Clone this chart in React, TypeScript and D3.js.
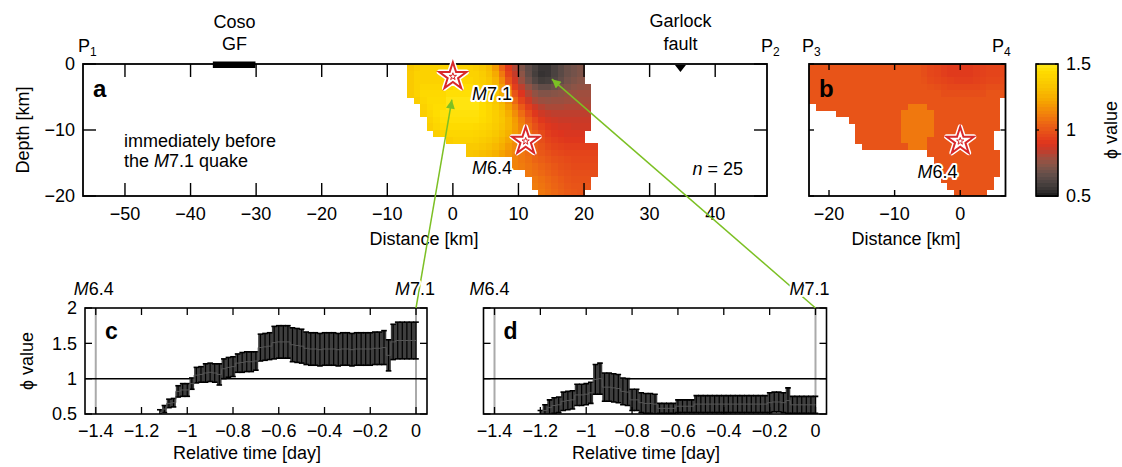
import React from "react";
import * as d3 from "d3";

const FONT = "'Liberation Sans', Arial, Helvetica, sans-serif";

// phi colour table
const phiStops = [0.5, 0.55, 0.6, 0.65, 0.7, 0.75, 0.8, 0.85, 0.9, 0.95, 1.0, 1.05, 1.1, 1.15, 1.2, 1.25, 1.3, 1.35, 1.4, 1.45, 1.5];
const phiColors = [
  "#1c1c1c", "#363232", "#4a4240", "#5e4c48", "#74524a", "#8c5446", "#a44c3c",
  "#c43c2a", "#de341e", "#e4441a", "#e85418", "#ec6414", "#f0780e", "#f28a08",
  "#f49c02", "#f6ae00", "#f8bc00", "#f9c800", "#fcd200", "#ffdd00", "#ffe81a",
];

// section P1-P2 : 1 km cells, first column at -8 km, one row per km of depth (0 = no estimate)
const gridAStart = -8;
const phiGridA = [
  [0, 1.35, 1.38, 1.4, 1.4, 1.4, 1.4, 1.4, 1.4, 1.4, 1.4, 1.38, 1.35, 1.3, 1.2, 1.05, 0.92, 0.82, 0.72, 0.65, 0.6, 0.56, 0.56, 0.6, 0.64, 0.68, 0.7, 0.72, 0, 0],
  [0, 1.36, 1.4, 1.4, 1.4, 1.4, 1.4, 1.4, 1.4, 1.4, 1.4, 1.4, 1.37, 1.32, 1.24, 1.1, 0.95, 0.85, 0.75, 0.66, 0.59, 0.55, 0.56, 0.6, 0.64, 0.68, 0.7, 0.72, 0, 0],
  [0, 1.36, 1.4, 1.4, 1.4, 1.4, 1.4, 1.4, 1.42, 1.42, 1.42, 1.4, 1.38, 1.34, 1.27, 1.15, 1.0, 0.88, 0.78, 0.69, 0.62, 0.58, 0.59, 0.62, 0.66, 0.7, 0.72, 0.74, 0, 0],
  [0, 1.36, 1.4, 1.42, 1.42, 1.42, 1.42, 1.42, 1.45, 1.45, 1.45, 1.43, 1.4, 1.36, 1.3, 1.2, 1.07, 0.93, 0.84, 0.76, 0.7, 0.66, 0.66, 0.68, 0.71, 0.73, 0.75, 0.76, 0.77, 0],
  [0, 1.36, 1.4, 1.43, 1.43, 1.43, 1.43, 1.46, 1.46, 1.46, 1.46, 1.46, 1.42, 1.38, 1.33, 1.25, 1.13, 1.0, 0.9, 0.82, 0.76, 0.73, 0.73, 0.74, 0.75, 0.77, 0.78, 0.79, 0.79, 0],
  [0, 0, 1.38, 1.42, 1.44, 1.44, 1.44, 1.48, 1.48, 1.48, 1.48, 1.48, 1.44, 1.4, 1.35, 1.28, 1.18, 1.06, 0.95, 0.87, 0.81, 0.78, 0.77, 0.78, 0.78, 0.79, 0.8, 0.8, 0.8, 0],
  [0, 0, 0, 1.4, 1.43, 1.45, 1.45, 1.48, 1.48, 1.48, 1.48, 1.48, 1.45, 1.42, 1.37, 1.31, 1.22, 1.12, 1.02, 0.93, 0.87, 0.83, 0.81, 0.81, 0.81, 0.82, 0.82, 0.82, 0.82, 0],
  [0, 0, 0, 1.38, 1.42, 1.45, 1.47, 1.47, 1.47, 1.47, 1.47, 1.47, 1.45, 1.42, 1.38, 1.33, 1.25, 1.16, 1.07, 0.98, 0.91, 0.87, 0.85, 0.84, 0.84, 0.84, 0.84, 0.84, 0.84, 0],
  [0, 0, 0, 0, 1.4, 1.43, 1.46, 1.46, 1.46, 1.46, 1.46, 1.46, 1.44, 1.42, 1.38, 1.34, 1.28, 1.2, 1.11, 1.03, 0.96, 0.91, 0.88, 0.87, 0.86, 0.86, 0.86, 0.86, 0.86, 0],
  [0, 0, 0, 0, 1.38, 1.42, 1.44, 1.44, 1.44, 1.44, 1.44, 1.43, 1.42, 1.4, 1.37, 1.33, 1.28, 1.21, 1.13, 1.06, 0.99, 0.94, 0.91, 0.89, 0.88, 0.88, 0.87, 0.87, 0.87, 0],
  [0, 0, 0, 0, 0, 1.38, 1.41, 1.42, 1.42, 1.42, 1.42, 1.41, 1.4, 1.38, 1.35, 1.31, 1.26, 1.2, 1.14, 1.08, 1.02, 0.97, 0.93, 0.91, 0.9, 0.89, 0.89, 0.89, 0, 0],
  [0, 0, 0, 0, 0, 0, 0, 1.38, 1.4, 1.4, 1.4, 1.39, 1.37, 1.35, 1.32, 1.28, 1.23, 1.17, 1.12, 1.07, 1.02, 0.98, 0.95, 0.93, 0.92, 0.91, 0.91, 0.91, 0, 0],
  [0, 0, 0, 0, 0, 0, 0, 0, 0, 0, 1.36, 1.36, 1.34, 1.32, 1.29, 1.25, 1.2, 1.15, 1.11, 1.07, 1.03, 1.0, 0.97, 0.95, 0.94, 0.93, 0.93, 0.93, 0.93, 0.93],
  [0, 0, 0, 0, 0, 0, 0, 0, 0, 0, 1.34, 1.33, 1.31, 1.29, 1.26, 1.22, 1.18, 1.14, 1.1, 1.07, 1.04, 1.01, 0.99, 0.97, 0.96, 0.95, 0.95, 0.95, 0.95, 0.95],
  [0, 0, 0, 0, 0, 0, 0, 0, 0, 0, 0, 0, 0, 0, 0, 0, 0, 1.13, 1.1, 1.08, 1.05, 1.03, 1.01, 0.99, 0.98, 0.97, 0.96, 0.96, 0.96, 0.96],
  [0, 0, 0, 0, 0, 0, 0, 0, 0, 0, 0, 0, 0, 0, 0, 0, 0, 1.13, 1.11, 1.09, 1.07, 1.05, 1.03, 1.01, 0.99, 0.98, 0.97, 0.97, 0.97, 0.97],
  [0, 0, 0, 0, 0, 0, 0, 0, 0, 0, 0, 0, 0, 0, 0, 0, 0, 0, 0, 1.1, 1.08, 1.06, 1.04, 1.02, 1.0, 0.99, 0.98, 0.98, 0.98, 0.98],
  [0, 0, 0, 0, 0, 0, 0, 0, 0, 0, 0, 0, 0, 0, 0, 0, 0, 0, 0, 0, 1.1, 1.08, 1.06, 1.04, 1.02, 1.0, 0.99, 0.99, 0.99, 0],
  [0, 0, 0, 0, 0, 0, 0, 0, 0, 0, 0, 0, 0, 0, 0, 0, 0, 0, 0, 0, 1.11, 1.09, 1.07, 1.05, 1.03, 1.01, 1.0, 1.0, 1.0, 0],
  [0, 0, 0, 0, 0, 0, 0, 0, 0, 0, 0, 0, 0, 0, 0, 0, 0, 0, 0, 0, 0, 1.1, 1.08, 1.06, 1.04, 1.02, 1.01, 1.0, 0, 0],
];

// section P3-P4 : first column at -23 km
const gridBStart = -23;
const phiGridB = [
  [1, 1, 1, 1, 1, 1, 1, 1, 1, 1, 1, 1, 1, 1, 1, 1, 1, 0.98, 0.96, 0.95, 0.93, 0.92, 0.92, 0.92, 0.92, 0.93, 0.94, 0.95, 0.95, 0.96],
  [1, 1, 1, 1, 1, 1, 1, 1, 1, 1, 1, 1, 1, 1, 1, 1, 1, 0.98, 0.96, 0.95, 0.93, 0.92, 0.92, 0.92, 0.92, 0.93, 0.94, 0.95, 0.95, 0.96],
  [1, 1, 1, 1, 1, 1, 1, 1, 1, 1, 1, 1, 1, 1, 1, 1, 1, 0.99, 0.97, 0.96, 0.95, 0.94, 0.93, 0.93, 0.93, 0.94, 0.95, 0.96, 0.96, 0.97],
  [1, 1, 1, 1, 1, 1, 1, 1, 1, 1, 1, 1, 1, 1, 1, 1, 1, 1, 0.99, 0.98, 0.97, 0.96, 0.96, 0.96, 0.96, 0.96, 0.97, 0.98, 0.98, 0.98],
  [1, 1, 1, 1, 1, 1, 1, 1, 1, 1, 1, 1, 1, 1, 1, 1, 1, 1, 1, 1, 0.98, 0.98, 0.98, 0.98, 0.98, 0.98, 0.98, 1, 1, 1],
  [1, 1, 1, 1, 1, 1, 1, 1, 1, 1, 1, 1, 1, 1, 1, 1, 1, 1, 1, 1, 1, 1, 1, 1, 1, 1, 1, 1, 1, 0],
  [0, 1, 1, 1, 1, 1, 1, 1, 1, 1, 1, 1, 1, 1, 1, 1.1, 1.1, 1.1, 1, 1, 1, 1, 1, 1, 1, 1, 1, 1, 1, 0],
  [0, 0, 0, 0, 1, 1, 1, 1, 1, 1, 1, 1, 1, 1, 1.1, 1.1, 1.1, 1.1, 1.1, 1, 1, 1, 1, 1, 1, 1, 1, 1, 1, 0],
  [0, 0, 0, 0, 0, 0, 1, 1, 1, 1, 1, 1, 1, 1, 1.1, 1.1, 1.1, 1.1, 1.1, 1, 1, 1, 1, 1, 1, 1, 1, 1, 1, 0],
  [0, 0, 0, 0, 0, 0, 0, 1, 1, 1, 1, 1, 1, 1, 1.1, 1.1, 1.1, 1.1, 1.1, 1, 1, 1, 1, 1, 1, 1, 1, 1, 1, 0],
  [0, 0, 0, 0, 0, 0, 0, 1, 1, 1, 1, 1, 1, 1, 1.1, 1.1, 1.1, 1.1, 1.1, 1, 1, 1, 1, 1, 1, 1, 1, 1, 0, 0],
  [0, 0, 0, 0, 0, 0, 0, 1, 1, 1, 1, 1, 1, 1, 1.1, 1.1, 1.1, 1.1, 1, 1, 1, 1, 1, 1, 1, 1, 1, 1, 0, 0],
  [0, 0, 0, 0, 0, 0, 0, 0, 1, 1, 1, 1, 1, 1, 1, 1.1, 1.1, 1.1, 1, 1, 1, 1, 1, 1, 1, 1, 1, 1, 0, 0],
  [0, 0, 0, 0, 0, 0, 0, 0, 0, 0, 0, 0, 0, 0, 0, 0, 0, 0, 1, 1, 1, 1, 1, 1, 1, 1, 1, 1, 1, 0],
  [0, 0, 0, 0, 0, 0, 0, 0, 0, 0, 0, 0, 0, 0, 0, 0, 0, 0, 0, 1, 1, 1, 1, 1, 1, 1, 1, 1, 1, 0],
  [0, 0, 0, 0, 0, 0, 0, 0, 0, 0, 0, 0, 0, 0, 0, 0, 0, 0, 0, 0, 1, 1, 1, 1, 1, 1, 1, 1, 1, 0],
  [0, 0, 0, 0, 0, 0, 0, 0, 0, 0, 0, 0, 0, 0, 0, 0, 0, 0, 0, 0, 1, 1, 1, 1, 1, 1, 1, 1, 1, 0],
  [0, 0, 0, 0, 0, 0, 0, 0, 0, 0, 0, 0, 0, 0, 0, 0, 0, 0, 0, 0, 1, 1, 1, 1, 1, 1, 1, 1, 0, 0],
  [0, 0, 0, 0, 0, 0, 0, 0, 0, 0, 0, 0, 0, 0, 0, 0, 0, 0, 0, 0, 0, 1, 1, 1, 1, 1, 1, 1, 0, 0],
  [0, 0, 0, 0, 0, 0, 0, 0, 0, 0, 0, 0, 0, 0, 0, 0, 0, 0, 0, 0, 0, 0, 1, 1, 1, 1, 1, 0, 0, 0],
];

// epicentres (distance km, depth km)
const quakesA = [
  { label: "M7.1", dist: 0, depth: -1.9, lx: 2.9, ly: -5.5 },
  { label: "M6.4", dist: 11.1, depth: -11.7, lx: 2.9, ly: -16.7 },
];
const quakesB = [{ label: "M6.4", dist: 0, depth: -11.7, lx: -6.5, ly: -17.3 }];

const cosoGF = [-36.6, -30.1];
const garlockFault = 34.7;

const ticksDistA = [-50, -40, -30, -20, -10, 0, 10, 20, 30, 40];
const ticksDistB = [-20, -10, 0];
const ticksDepth = [0, -10, -20];
const ticksTime = [-1.4, -1.2, -1, -0.8, -0.6, -0.4, -0.2, 0];
const ticksPhi = [0.5, 1, 1.5, 2];
const ticksBar = [0.5, 1, 1.5];

// phi time series, days relative to the M7.1 (c: area near hypocentre, d: dark area)
const timeC = [-1.12, -1.1, -1.08, -1.06, -1.04, -1.02, -1.0, -0.98, -0.96, -0.94, -0.92, -0.9, -0.88, -0.86, -0.84, -0.82, -0.8, -0.78, -0.76, -0.74, -0.72, -0.7, -0.68, -0.66, -0.64, -0.62, -0.6, -0.58, -0.56, -0.54, -0.52, -0.5, -0.48, -0.46, -0.44, -0.42, -0.4, -0.38, -0.36, -0.34, -0.32, -0.3, -0.28, -0.26, -0.24, -0.22, -0.2, -0.18, -0.16, -0.14, -0.12, -0.1, -0.08, -0.06, -0.04, -0.02, 0];
const phiC = [0.52, 0.57, 0.65, 0.66, 0.82, 0.84, 0.84, 0.93, 1.05, 1.06, 1.08, 1.09, 1.08, 1.06, 1.14, 1.16, 1.17, 1.22, 1.23, 1.24, 1.24, 1.25, 1.44, 1.45, 1.46, 1.51, 1.52, 1.52, 1.52, 1.48, 1.47, 1.46, 1.43, 1.42, 1.42, 1.41, 1.42, 1.42, 1.42, 1.41, 1.42, 1.42, 1.41, 1.42, 1.42, 1.42, 1.42, 1.43, 1.43, 1.44, 1.33, 1.52, 1.54, 1.54, 1.54, 1.54, 1.54];
const errC = [0.04, 0.05, 0.06, 0.06, 0.08, 0.09, 0.09, 0.08, 0.11, 0.11, 0.13, 0.13, 0.13, 0.15, 0.14, 0.14, 0.14, 0.13, 0.14, 0.14, 0.14, 0.13, 0.19, 0.19, 0.19, 0.23, 0.23, 0.23, 0.23, 0.24, 0.24, 0.24, 0.23, 0.23, 0.23, 0.23, 0.23, 0.23, 0.23, 0.23, 0.23, 0.23, 0.23, 0.23, 0.23, 0.23, 0.23, 0.23, 0.23, 0.24, 0.22, 0.25, 0.26, 0.26, 0.26, 0.26, 0.26];

const timeD = [-1.2, -1.18, -1.16, -1.14, -1.12, -1.1, -1.08, -1.06, -1.04, -1.02, -1.0, -0.98, -0.96, -0.94, -0.92, -0.9, -0.88, -0.86, -0.84, -0.82, -0.8, -0.78, -0.76, -0.74, -0.72, -0.7, -0.68, -0.66, -0.64, -0.62, -0.6, -0.58, -0.56, -0.54, -0.52, -0.5, -0.48, -0.46, -0.44, -0.42, -0.4, -0.38, -0.36, -0.34, -0.32, -0.3, -0.28, -0.26, -0.24, -0.22, -0.2, -0.18, -0.16, -0.14, -0.12, -0.1, -0.08, -0.06, -0.04, -0.02, 0];
const phiD = [0.5, 0.55, 0.59, 0.62, 0.63, 0.68, 0.69, 0.7, 0.77, 0.77, 0.78, 0.8, 0.99, 1.0, 0.88, 0.88, 0.87, 0.86, 0.82, 0.81, 0.7, 0.7, 0.66, 0.65, 0.65, 0.64, 0.58, 0.58, 0.58, 0.58, 0.61, 0.61, 0.61, 0.61, 0.64, 0.64, 0.64, 0.64, 0.64, 0.64, 0.64, 0.64, 0.64, 0.64, 0.64, 0.64, 0.64, 0.64, 0.64, 0.64, 0.66, 0.67, 0.67, 0.66, 0.69, 0.63, 0.63, 0.63, 0.63, 0.63, 0.63];
const errD = [0.05, 0.08, 0.11, 0.11, 0.11, 0.13, 0.13, 0.13, 0.15, 0.15, 0.15, 0.15, 0.21, 0.22, 0.2, 0.2, 0.2, 0.2, 0.19, 0.19, 0.15, 0.15, 0.14, 0.14, 0.14, 0.14, 0.07, 0.07, 0.07, 0.07, 0.09, 0.09, 0.09, 0.09, 0.12, 0.12, 0.12, 0.12, 0.12, 0.12, 0.12, 0.12, 0.12, 0.12, 0.12, 0.12, 0.12, 0.12, 0.12, 0.12, 0.14, 0.14, 0.14, 0.14, 0.18, 0.12, 0.12, 0.12, 0.12, 0.12, 0.12];

// where the green arrows point in section a (km)
const arrowTargets = [{ dist: -0.15, depth: -5.4 }, { dist: 15.1, depth: -2.3 }];

const fmt = (v: number) => (v < 0 ? "\u2212" : "") + Math.abs(v);
const GREEN = "#7cc024";
const RED = "#d8282a";

const phiColor = d3.scaleLinear<string>().domain(phiStops).range(phiColors).clamp(true);

function Heat({ grid, start, x, y }: any) {
  const cells: any[] = [];
  grid.forEach((row: number[], r: number) => {
    row.forEach((v, i) => {
      if (!v) return;
      const x0 = x(start + i), x1 = x(start + i + 1);
      const y0 = y(-r), y1 = y(-(r + 1));
      cells.push(
        <rect key={r + "-" + i} x={x0} y={y0} width={x1 - x0 + 0.5} height={y1 - y0 + 0.5} fill={phiColor(v)} />
      );
    });
  });
  return <g shapeRendering="crispEdges">{cells}</g>;
}

const starBig = d3.symbol(d3.symbolStar, 230)() as string;
const starSmall = d3.symbol(d3.symbolStar, 16)() as string;

function Star({ cx, cy }: { cx: number; cy: number }) {
  return (
    <g transform={`translate(${cx},${cy})`}>
      <path d={starBig} fill="white" stroke="white" strokeWidth={5} strokeLinejoin="round" />
      <path d={starBig} fill="white" stroke={RED} strokeWidth={2} />
      <path d={starSmall} fill="none" stroke={RED} strokeWidth={1} />
    </g>
  );
}

function Halo({ x, y, children, anchor = "start" }: any) {
  return (
    <text x={x} y={y} textAnchor={anchor} stroke="white" strokeWidth={4} strokeLinejoin="round"
      style={{ paintOrder: "stroke" }} fill="black">
      {children}
    </text>
  );
}

function TimePanel({ x, y, times, vals, errs, id, yLabels, letter }: any) {
  const [l, r] = x.range();
  const [b, t] = y.range();
  const band = d3.area<number>()
    .x((_, i) => x(times[i]))
    .y0((v, i) => y(v - errs[i]))
    .y1((v, i) => y(v + errs[i]))
    .curve(d3.curveStep);
  const mean = d3.line<number>().x((_, i) => x(times[i])).y((v) => y(v)).curve(d3.curveStep);
  return (
    <g>
      <defs>
        <clipPath id={id}>
          <rect x={l} y={t} width={r - l} height={b - t} />
        </clipPath>
      </defs>
      <line x1={x(-1.4)} x2={x(-1.4)} y1={t} y2={b} stroke="#aaa" strokeWidth={2} />
      <line x1={x(0)} x2={x(0)} y1={t} y2={b} stroke="#aaa" strokeWidth={2} />
      <line x1={l} x2={r} y1={y(1)} y2={y(1)} stroke="black" strokeWidth={1.5} />
      <g clipPath={`url(#${id})`}>
        <path d={band(vals) as string} fill="#3e3e3e" />
        {vals.map((v: number, i: number) => {
          const px = x(times[i]);
          const lo = y(v - errs[i]), hi = y(v + errs[i]);
          return (
            <g key={i} stroke="black" strokeWidth={1.2}>
              <line x1={px} x2={px} y1={lo} y2={hi} />
              <line x1={px - 2.8} x2={px + 2.8} y1={lo} y2={lo} strokeWidth={1.6} />
              <line x1={px - 2.8} x2={px + 2.8} y1={hi} y2={hi} strokeWidth={1.6} />
            </g>
          );
        })}
        <path d={mean(vals) as string} fill="none" stroke="#555" strokeWidth={1} />
      </g>
      <rect x={l} y={t} width={r - l} height={b - t} fill="none" stroke="black" strokeWidth={1.6} />
      {ticksTime.map((d) => (
        <g key={d}>
          <line x1={x(d)} x2={x(d)} y1={t} y2={t + 7} stroke="black" strokeWidth={1.3} />
          <line x1={x(d)} x2={x(d)} y1={b} y2={b - 7} stroke="black" strokeWidth={1.3} />
          <text x={x(d)} y={b + 23} textAnchor="middle">{fmt(d)}</text>
        </g>
      ))}
      {ticksPhi.map((d) => (
        <g key={d}>
          <line x1={l} x2={l + 7} y1={y(d)} y2={y(d)} stroke="black" strokeWidth={1.3} />
          <line x1={r} x2={r - 7} y1={y(d)} y2={y(d)} stroke="black" strokeWidth={1.3} />
          {yLabels && <text x={l - 8} y={y(d)} dy="0.36em" textAnchor="end">{fmt(d)}</text>}
        </g>
      ))}
      <text x={l + 20} y={t + 31} fontWeight="bold" fontSize={23}>{letter}</text>
      <text x={(l + r) / 2 - 9} y={b + 45} textAnchor="middle">Relative time [day]</text>
    </g>
  );
}

export default function App() {
  const xA = d3.scaleLinear().domain([-56.4, 47.9]).range([83, 767]);
  const yA = d3.scaleLinear().domain([0, -20]).range([64, 196]);
  const xB = d3.scaleLinear().domain([-23.05, 6.9]).range([809, 1005.5]);
  const yBar = d3.scaleLinear().domain([0.5, 1.5]).range([196, 64]);
  const xC = d3.scaleLinear().domain([-1.447, 0.048]).range([85, 427]);
  const xD = d3.scaleLinear().domain([-1.448, 0.048]).range([483.5, 826.5]);
  const yT = d3.scaleLinear().domain([0.5, 2]).range([414, 308]);

  const barSteps = d3.range(0.5, 1.5, 0.025);

  const arrowFrom = [
    [xC(0), yT(2)],
    [xD(0), yT(2)],
  ];

  return (
    <svg width={1122} height={467} style={{ position: "absolute", left: 0, top: 0, background: "white" }}
      fontFamily={FONT} fontSize={18}>
      <defs>
        <clipPath id="clipA"><rect x={83} y={64} width={684} height={132} /></clipPath>
        <clipPath id="clipB"><rect x={809} y={64} width={196.5} height={132} /></clipPath>
        <marker id="head" viewBox="0 0 10 10" refX={10} refY={5} markerWidth={11} markerHeight={9}
          markerUnits="userSpaceOnUse" orient="auto">
          <path d="M0,0 L10,5 L0,10 z" fill={GREEN} />
        </marker>
      </defs>
      <rect width={1122} height={467} fill="white" />

      {/* ---- panel a ---- */}
      <g clipPath="url(#clipA)">
        <Heat grid={phiGridA} start={gridAStart} x={xA} y={yA} />
      </g>
      <rect x={83} y={64} width={684} height={132} fill="none" stroke="black" strokeWidth={1.8} />
      {ticksDistA.map((d) => (
        <g key={d}>
          <line x1={xA(d)} x2={xA(d)} y1={64} y2={77} stroke="black" strokeWidth={1.4} />
          <line x1={xA(d)} x2={xA(d)} y1={196} y2={183} stroke="black" strokeWidth={1.4} />
          <text x={xA(d)} y={220} textAnchor="middle">{fmt(d)}</text>
        </g>
      ))}
      {ticksDepth.map((d) => (
        <g key={d}>
          <line x1={83} x2={96} y1={yA(d)} y2={yA(d)} stroke="black" strokeWidth={1.4} />
          <line x1={767} x2={754} y1={yA(d)} y2={yA(d)} stroke="black" strokeWidth={1.4} />
          <text x={75} y={yA(d)} dy="0.36em" textAnchor="end">{fmt(d)}</text>
        </g>
      ))}
      <rect x={xA(cosoGF[0])} y={61.5} width={xA(cosoGF[1]) - xA(cosoGF[0])} height={6.5} fill="black" />
      <path d={`M${xA(garlockFault) - 5.5},65 L${xA(garlockFault) + 5.5},65 L${xA(garlockFault)},72 z`} fill="black" />
      <text x={xA(-33.3)} y={28} textAnchor="middle">Coso</text>
      <text x={xA(-33.3)} y={50} textAnchor="middle">GF</text>
      <text x={xA(garlockFault)} y={27} textAnchor="middle">Garlock</text>
      <text x={xA(garlockFault)} y={50} textAnchor="middle">fault</text>
      <text x={78} y={52}>P<tspan fontSize={12} dy={4}>1</tspan></text>
      <text x={761} y={52}>P<tspan fontSize={12} dy={4}>2</tspan></text>
      <text x={93} y={97} fontWeight="bold" fontSize={24}>a</text>
      <text x={124} y={147}>immediately before</text>
      <text x={124} y={167}>the <tspan fontStyle="italic">M</tspan>7.1 quake</text>
      <text x={743} y={175} textAnchor="end"><tspan fontStyle="italic">n</tspan> = 25</text>
      <text transform="translate(29,130) rotate(-90)" textAnchor="middle">Depth [km]</text>
      <text x={424} y={245} textAnchor="middle">Distance [km]</text>

      {/* ---- panel b ---- */}
      <g clipPath="url(#clipB)">
        <Heat grid={phiGridB} start={gridBStart} x={xB} y={yA} />
      </g>
      <rect x={809} y={64} width={196.5} height={132} fill="none" stroke="black" strokeWidth={1.8} />
      {ticksDistB.map((d) => (
        <g key={d}>
          <line x1={xB(d)} x2={xB(d)} y1={64} y2={70} stroke="black" strokeWidth={1.4} />
          <line x1={xB(d)} x2={xB(d)} y1={196} y2={190} stroke="black" strokeWidth={1.4} />
          <text x={xB(d)} y={220} textAnchor="middle">{fmt(d)}</text>
        </g>
      ))}
      {ticksDepth.map((d) => (
        <g key={d}>
          <line x1={809} x2={814} y1={yA(d)} y2={yA(d)} stroke="black" strokeWidth={1.4} />
          <line x1={1005.5} x2={1000.5} y1={yA(d)} y2={yA(d)} stroke="black" strokeWidth={1.4} />
        </g>
      ))}
      <text x={802} y={52}>P<tspan fontSize={12} dy={4}>3</tspan></text>
      <text x={992} y={52}>P<tspan fontSize={12} dy={4}>4</tspan></text>
      <text x={819} y={97} fontWeight="bold" fontSize={24}>b</text>
      <text x={906} y={245} textAnchor="middle">Distance [km]</text>

      {/* ---- colour bar ---- */}
      <g shapeRendering="crispEdges">
        {barSteps.map((v) => (
          <rect key={v} x={1036} y={yBar(v + 0.025)} width={22} height={yBar(v) - yBar(v + 0.025) + 0.5}
            fill={phiColor(v + 0.0125)} />
        ))}
      </g>
      <rect x={1036} y={64} width={22} height={132} fill="none" stroke="black" strokeWidth={1.6} />
      {ticksBar.map((d) => (
        <g key={d}>
          <line x1={1036} x2={1039} y1={yBar(d)} y2={yBar(d)} stroke="black" strokeWidth={1.2} />
          <line x1={1058} x2={1055} y1={yBar(d)} y2={yBar(d)} stroke="black" strokeWidth={1.2} />
          <text x={1066} y={yBar(d)} dy="0.36em">{d}</text>
        </g>
      ))}
      <text transform="translate(1117,130) rotate(-90)" textAnchor="middle">ϕ value</text>

      {/* ---- panels c, d ---- */}
      <TimePanel x={xC} y={yT} times={timeC} vals={phiC} errs={errC} id="clipC" yLabels letter="c" />
      <TimePanel x={xD} y={yT} times={timeD} vals={phiD} errs={errD} id="clipD" yLabels={false} letter="d" />
      <text transform="translate(33,361) rotate(-90)" textAnchor="middle">ϕ value</text>

      {/* ---- arrows linking panels ---- */}
      {arrowTargets.map((p, i) => (
        <line key={i} x1={arrowFrom[i][0]} y1={arrowFrom[i][1]} x2={xA(p.dist)} y2={yA(p.depth)}
          stroke={GREEN} strokeWidth={1.5} markerEnd="url(#head)" />
      ))}

      {/* ---- epicentres and labels ---- */}
      {quakesA.map((q) => (
        <Star key={q.label} cx={xA(q.dist)} cy={yA(q.depth)} />
      ))}
      {quakesB.map((q) => (
        <Star key={q.label} cx={xB(q.dist)} cy={yA(q.depth)} />
      ))}
      {quakesA.map((q) => (
        <Halo key={q.label} x={xA(q.lx)} y={yA(q.ly)}>
          <tspan fontStyle="italic">M</tspan>{q.label.slice(1)}
        </Halo>
      ))}
      {quakesB.map((q) => (
        <Halo key={q.label} x={xB(q.lx)} y={yA(q.ly)}>
          <tspan fontStyle="italic">M</tspan>{q.label.slice(1)}
        </Halo>
      ))}
      <Halo x={xC(-1.4) - 2} y={295} anchor="middle"><tspan fontStyle="italic">M</tspan>6.4</Halo>
      <Halo x={xC(0) - 1} y={295} anchor="middle"><tspan fontStyle="italic">M</tspan>7.1</Halo>
      <Halo x={xD(-1.4) - 5} y={295} anchor="middle"><tspan fontStyle="italic">M</tspan>6.4</Halo>
      <Halo x={xD(0) - 6} y={295} anchor="middle"><tspan fontStyle="italic">M</tspan>7.1</Halo>
    </svg>
  );
}
